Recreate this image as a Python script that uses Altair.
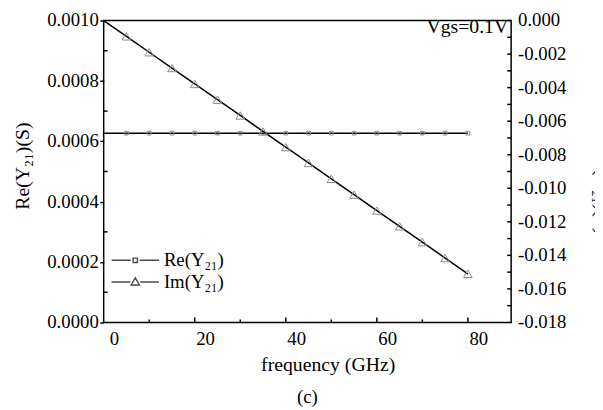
import altair as alt
import pandas as pd

# ---- data ----
freq = [0, 5, 10, 15, 20, 25, 30, 35, 40, 45, 50, 55, 60, 65, 70, 75, 80]
re_y21 = [0.000627, 0.000627, 0.000627, 0.000627, 0.000627, 0.000627, 0.000627, 0.000627,
          0.000627, 0.000627, 0.000627, 0.000627, 0.000627, 0.000627, 0.000627, 0.000627, 0.000627]
im_y21 = [0.0, -0.00094, -0.00189, -0.00283, -0.00378, -0.00472, -0.00566, -0.00661, -0.00755,
          -0.00849, -0.00944, -0.01038, -0.01133, -0.01227, -0.01321, -0.01416, -0.01510]
series_names = ["Re(Y\u2082\u2081)", "Im(Y\u2082\u2081)"]

x_major = [0, 20, 40, 60, 80]
x_labels = ["0", "20", "40", "60", "80"]
x_minor = [10, 30, 50, 70]
left_major = [0.0, 0.0002, 0.0004, 0.0006, 0.0008, 0.0010]
left_labels = ["0.0000", "0.0002", "0.0004", "0.0006", "0.0008", "0.0010"]
left_minor = [0.0001, 0.0003, 0.0005, 0.0007, 0.0009]
right_major = [-0.018, -0.016, -0.014, -0.012, -0.010, -0.008, -0.006, -0.004, -0.002, 0.0]
right_labels = ["-0.018", "-0.016", "-0.014", "-0.012", "-0.010", "-0.008", "-0.006",
                "-0.004", "-0.002", "0.000"]
right_minor = [-0.017, -0.015, -0.013, -0.011, -0.009, -0.007, -0.005, -0.003, -0.001]

W, H = 413, 306
FONT = "Liberation Serif"
FS = 19

df = pd.DataFrame({"freq": freq, "re": re_y21, "im": im_y21})
legend_df = pd.DataFrame({"series": series_names})

xs = alt.Scale(domain=[0, 89.5], nice=False, zero=False)
ys_l = alt.Scale(domain=[0, 0.001], nice=False, zero=False)
ys_r = alt.Scale(domain=[-0.018, 0], nice=False, zero=False)

common = dict(labels=False, titleFont=FONT, titleColor="black",
              titleFontWeight="normal", grid=False, domain=False, tickColor="black",
              titleFontSize=FS + 1)

x_axis = alt.Axis(values=x_major, title="frequency (GHz)", tickSize=0,
                  titleX=227, titleY=43, titleBaseline="middle", titleAlign="center", **common)
left_axis = alt.Axis(values=left_major, title="Re(Y\u2082\u2081)(S)", tickSize=4, tickWidth=1.5,
                     titleX=-82, titleY=147, titleAlign="center", titleBaseline="middle",
                     **common)
right_axis = alt.Axis(values=right_major, orient="right", title="Im(Y\u2082\u2081)(S)", tickSize=0,
                      titleAngle=90, titleX=92, titleY=172, titleAlign="center",
                      titleBaseline="middle", **common)

def X(field):
    return alt.X(field, scale=xs, axis=x_axis)

def YL(field):
    return alt.Y(field, scale=ys_l, axis=left_axis)

def YR(field):
    return alt.Y(field, scale=ys_r, axis=right_axis)

def label_text(**kw):
    return dict(font=FONT, fontSize=FS, color="black", **kw)

base = alt.Chart(df)

# ---- left (Re) group ----
re_line = base.mark_line(color="black", strokeWidth=1.5).encode(x=X("freq:Q"), y=YL("re:Q"))
re_pts = base.transform_filter(alt.datum.freq > 0).mark_point(
    shape="square", filled=False, size=14, color="#8a8a8a", strokeWidth=1, opacity=1
).encode(x=X("freq:Q"), y=YL("re:Q"))

left_minor_ticks = alt.Chart(pd.DataFrame({"v": left_minor})).mark_rule(
    color="black", strokeWidth=1.5
).encode(y=YL("v:Q"), x=alt.value(0), x2=alt.value(4))

left_lbl = alt.Chart(pd.DataFrame({"v": left_major, "t": left_labels})).mark_text(
    **label_text(align="right", baseline="middle")
).encode(y=YL("v:Q"), x=alt.value(-5), text="t:N")

bottom_major = alt.Chart(pd.DataFrame({"v": x_major[1:]})).mark_rule(
    color="black", strokeWidth=1.5
).encode(x=X("v:Q"), y=alt.value(H), y2=alt.value(H - 5))
bottom_minor = alt.Chart(pd.DataFrame({"v": x_minor})).mark_rule(
    color="black", strokeWidth=1.5
).encode(x=X("v:Q"), y=alt.value(H), y2=alt.value(H - 3))

bottom_lbl = alt.Chart(pd.DataFrame({"v": x_major, "t": x_labels})).mark_text(
    **label_text(align="center", baseline="top", dx=11)
).encode(x=X("v:Q"), y=alt.value(H + 8), text="t:N")

sq_path = "M-2.4,0H-0.45M0.45,0H2.4M-0.22,-0.22H0.22V0.22H-0.22Z"
tri_path = "M-2.4,0H-0.5M0.5,0H2.4M0,-0.42L0.42,0.3H-0.42Z"
legend_layer = alt.Chart(legend_df).transform_filter(
    "datum.series == 'none'"
).mark_point(filled=False, color="black", strokeWidth=1.3).encode(
    shape=alt.Shape("series:N",
                    scale=alt.Scale(domain=series_names, range=[sq_path, tri_path]),
                    legend=alt.Legend(title=None, orient="none", legendX=21, legendY=232,
                                      symbolSize=400, symbolStrokeColor="black",
                                      symbolStrokeWidth=1.4, symbolFillColor="transparent",
                                      labelFont=FONT, labelFontSize=FS, labelColor="black",
                                      labelOffset=18, rowPadding=1))
)

vgs = alt.Chart(pd.DataFrame({"t": ["Vgs=0.1V"]})).mark_text(
    font=FONT, fontSize=20, color="black", align="right", baseline="middle"
).encode(text="t:N", x=alt.value(W - 3), y=alt.value(7))

caption = alt.Chart(pd.DataFrame({"t": ["(c)"]})).mark_text(
    **label_text(align="center", baseline="middle")
).encode(text="t:N", x=alt.value(W / 2), y=alt.value(382))

left_group = alt.layer(re_line, re_pts, left_minor_ticks, left_lbl, bottom_major,
                       bottom_minor, bottom_lbl, legend_layer, vgs, caption)

# ---- right (Im) group ----
im_line = base.mark_line(color="black", strokeWidth=1.5).encode(x=X("freq:Q"), y=YR("im:Q"))
im_pts = base.transform_filter(alt.datum.freq > 0).mark_point(
    shape="triangle-up", filled=False, size=75, color="#8a8a8a", strokeWidth=1, opacity=1
).encode(x=X("freq:Q"), y=YR("im:Q"))
right_major_ticks = alt.Chart(pd.DataFrame({"v": right_major[1:]})).mark_rule(
    color="black", strokeWidth=1.5
).encode(y=YR("v:Q"), x=alt.value(W), x2=alt.value(W - 4))
right_minor_ticks = alt.Chart(pd.DataFrame({"v": right_minor})).mark_rule(
    color="black", strokeWidth=1.5
).encode(y=YR("v:Q"), x=alt.value(W), x2=alt.value(W - 4))
right_lbl = alt.Chart(pd.DataFrame({"v": right_major, "t": right_labels})).mark_text(
    **label_text(align="left", baseline="middle")
).encode(y=YR("v:Q"), x=alt.value(W + 7), text="t:N")

right_group = alt.layer(im_line, im_pts, right_major_ticks, right_minor_ticks, right_lbl)

chart = alt.layer(left_group, right_group).resolve_scale(
    y="independent", shape="independent"
).properties(
    width=W, height=H, background="white",
    autosize=alt.AutoSizeParams(type="none"),
    padding={"left": 97, "top": 10, "right": 85, "bottom": 84},
).configure_view(
    stroke="black", strokeWidth=1.5, strokeOpacity=1
).configure_axis(
    titleFont=FONT, titleColor="black",
    titleFontWeight="normal", grid=False, domain=False, tickColor="black"
)

chart.save("out.html", embed_options={"renderer": "svg", "actions": False})
